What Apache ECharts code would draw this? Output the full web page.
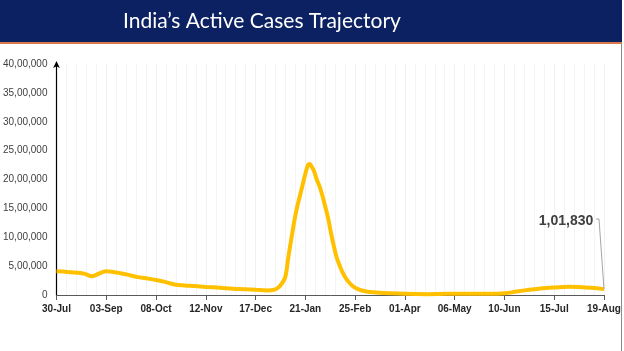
<!DOCTYPE html>
<html>
<head>
<meta charset="utf-8">
<script src="https://cdn.jsdelivr.net/npm/echarts@6/dist/echarts.min.js"></script>
<style>
  html, body { margin: 0; padding: 0; background: #fff; }
  #main { width: 624px; height: 351px; }
</style>
</head>
<body>
<div id="main"></div>
<script>
// x tick labels, one every 35 days starting 30-Jul
const tickLabels = ['30-Jul', '03-Sep', '08-Oct', '12-Nov', '17-Dec', '21-Jan',
  '25-Feb', '01-Apr', '06-May', '10-Jun', '15-Jul', '19-Aug'];

// day offset from 30-Jul
const days = [0, 5, 10, 15, 20, 25, 28, 32, 35, 40, 45, 50, 57, 63, 70, 77, 83, 90, 97,
  105, 115, 124, 133, 140, 148, 153, 156, 159, 161, 163, 165, 167, 169, 171, 173, 175,
  177, 178, 179, 181, 183, 185, 187, 189, 191, 193, 195, 197, 199, 201, 204, 208, 212,
  218, 225, 235, 245, 260, 275, 290, 305, 315, 325, 336, 350, 360, 367, 376, 385];

// active cases
const active = [410000, 405000, 392000, 385000, 365000, 325000, 350000, 392000, 412000,
  400000, 378000, 352000, 310000, 290000, 260000, 222000, 182000, 165000, 155000,
  140000, 125000, 110000, 100000, 90000, 80000, 90000, 130000, 220000, 320000, 650000,
  950000, 1250000, 1500000, 1700000, 1900000, 2100000, 2260000, 2270000, 2240000,
  2150000, 2000000, 1880000, 1720000, 1530000, 1330000, 1080000, 850000, 650000,
  520000, 400000, 270000, 160000, 100000, 60000, 45000, 30000, 20000, 15000, 20000,
  22000, 20000, 30000, 65000, 100000, 130000, 145000, 140000, 125000, 101830];

function inr(n) {
  const s = String(Math.round(n));
  if (s.length <= 3) return s;
  const last3 = s.slice(-3);
  const rest = s.slice(0, -3).replace(/\B(?=(\d{2})+(?!\d))/g, ',');
  return rest + ',' + last3;
}

const last = days.length - 1;
const seriesData = days.map((d, i) => {
  if (i === last) {
    return { value: [d, active[i]], label: { show: true } };
  }
  return [d, active[i]];
});

const chart = echarts.init(document.getElementById('main'));
const option = {
  animation: false,
  backgroundColor: '#fff',
  graphic: [
    { type: 'rect', shape: { x: 0, y: 0, width: 622, height: 42 }, style: { fill: '#0b2161' }, z: 0 },
    { type: 'rect', shape: { x: 0, y: 42, width: 622, height: 2 }, style: { fill: '#d9784c' }, z: 0 },
    { type: 'line', shape: { x1: 621.5, y1: 44, x2: 621.5, y2: 351 }, style: { stroke: '#8c8c8c', lineWidth: 1 }, z: 0 }
  ],
  title: {
    text: 'India\u2019s Active Cases Trajectory',
    left: 118,
    top: 6,
    textStyle: { color: '#fff', fontSize: 21, fontWeight: 'normal', fontFamily: 'Lato' }
  },
  grid: { left: 55, right: 20, top: 64, bottom: 56 },
  xAxis: {
    type: 'value',
    min: 0,
    max: 385,
    interval: 35,
    axisLine: { lineStyle: { color: '#595959', width: 1 } },
    axisTick: { show: true, length: 5, lineStyle: { color: '#595959' } },
    axisLabel: {
      formatter: v => tickLabels[Math.round(v / 35)],
      color: '#262626',
      fontWeight: 'bold',
      fontSize: 10,
      fontFamily: 'Liberation Sans',
      margin: 9
    },
    splitLine: { show: true, lineStyle: { color: '#f0f0f0' } },
    minorTick: { show: false, splitNumber: 5 },
    minorSplitLine: { show: true, lineStyle: { color: '#f4f4f4' } }
  },
  yAxis: {
    type: 'value',
    min: 0,
    max: 4000000,
    interval: 500000,
    axisLine: {
      show: true,
      symbol: ['none', 'arrow'],
      symbolSize: [5, 7],
      symbolOffset: [0, 3],
      lineStyle: { color: '#000', width: 1.2 }
    },
    axisTick: { show: false },
    axisLabel: {
      formatter: v => inr(v),
      color: '#404040',
      fontSize: 10,
      fontFamily: 'Liberation Sans',
      margin: 9
    },
    splitLine: { show: false }
  },
  series: [{
    type: 'line',
    data: seriesData,
    smooth: 0.4,
    showSymbol: true,
    showAllSymbol: true,
    symbol: 'circle',
    symbolSize: 0,
    lineStyle: { color: '#ffc000', width: 4 },
    itemStyle: { color: '#ffc000' },
    label: {
      show: false,
      position: 'top',
      formatter: p => inr(p.value[1]),
      color: '#404040',
      fontWeight: 'bold',
      fontSize: 14,
      fontFamily: 'Liberation Sans'
    },
    labelLayout: { dx: -38, dy: -56 }
  }]
};
chart.setOption(option);

// leader line from the label to the last point
const pt = chart.convertToPixel({ gridIndex: 0 }, [days[last], active[last]]);
chart.setOption({
  graphic: option.graphic.concat([{
    type: 'polyline',
    shape: { points: [[596, 219], [599, 219], [pt[0], pt[1]]] },
    style: { stroke: '#a6a6a6', lineWidth: 1, fill: null },
    z: 5
  }])
});
</script>
</body>
</html>
